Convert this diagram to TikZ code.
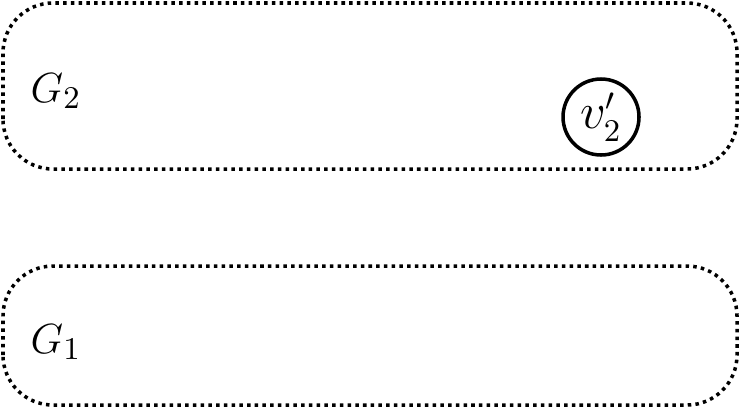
\documentclass[tikz,border=0pt]{standalone}
\usepackage{tikz}
\usetikzlibrary{positioning}
\usepackage{amsmath}

\tikzset{
    graphbox/.style={line width=1pt, dash pattern=on 1pt off 1.2pt, rounded corners=0.5cm},
    vertex/.style={circle, draw, line width=1pt, minimum size=0.76cm, inner sep=0pt, font=\fontsize{13.5}{16}\selectfont},
    glabel/.style={anchor=base west, font=\fontsize{13}{16}\selectfont, inner sep=0pt}
}

\begin{document}
\begin{tikzpicture}
        \useasboundingbox (0,0) rectangle (7.4,4.09);
        % two graph boxes
        \draw[graphbox] (0.03, 2.40) rectangle (7.37, 4.06);
        \draw[graphbox] (0.03, 0.04) rectangle (7.37, 1.43);

        \node[glabel] (g2) at (0.30, 3.07) {$G_2$};
        \node[glabel] (g1) at (0.30, 0.56) {$G_1$};

        \node[vertex] (v2p) at (6.01, 2.92) {$v_2'$};
    \end{tikzpicture}
\end{document}
